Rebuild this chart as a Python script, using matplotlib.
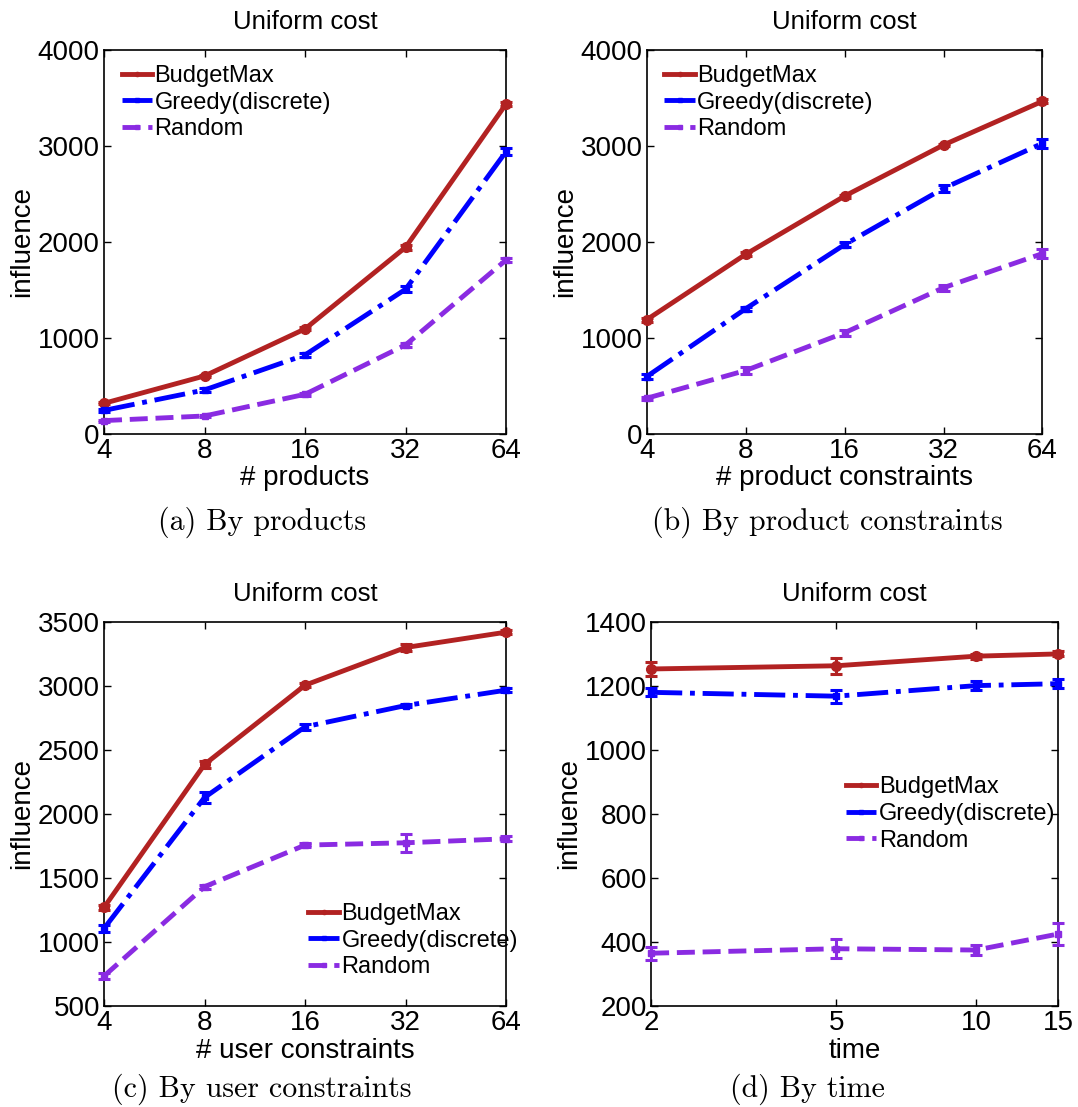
import matplotlib
matplotlib.use("Agg")
import matplotlib.pyplot as plt
from matplotlib.lines import Line2D
from matplotlib.ticker import FixedLocator, NullLocator

plt.rcParams["font.family"] = ["Liberation Sans", "DejaVu Sans"]

# Series names and styles
series_names = ["BudgetMax", "Greedy(discrete)", "Random"]

# (a) By products
products_x = [4, 8, 16, 32, 64]
products_budgetmax = [319, 604, 1094, 1944, 3437]
products_greedy = [245, 458, 823, 1507, 2941]
products_random = [139, 187, 413, 927, 1812]
products_budgetmax_err = [10, 15, 15, 25, 20]
products_greedy_err = [15, 20, 25, 30, 40]
products_random_err = [10, 10, 15, 25, 25]

# (b) By product constraints
pconstr_x = [4, 8, 16, 32, 64]
pconstr_budgetmax = [1190, 1871, 2477, 3009, 3464]
pconstr_greedy = [598, 1304, 1972, 2557, 3026]
pconstr_random = [372, 661, 1054, 1523, 1878]
pconstr_budgetmax_err = [20, 20, 15, 15, 20]
pconstr_greedy_err = [30, 20, 30, 40, 45]
pconstr_random_err = [15, 35, 30, 30, 50]

# (c) By user constraints
uconstr_x = [4, 8, 16, 32, 64]
uconstr_budgetmax = [1270, 2387, 3006, 3300, 3420]
uconstr_greedy = [1106, 2129, 2681, 2847, 2967]
uconstr_random = [734, 1432, 1757, 1775, 1806]
uconstr_budgetmax_err = [20, 30, 15, 25, 15]
uconstr_greedy_err = [30, 45, 25, 15, 15]
uconstr_random_err = [25, 15, 15, 70, 20]

# (d) By time
time_x = [2, 5, 10, 15]
time_budgetmax = [1253, 1263, 1293, 1300]
time_greedy = [1180, 1168, 1201, 1207]
time_random = [365, 379, 375, 425]
time_budgetmax_err = [22, 25, 8, 8]
time_greedy_err = [12, 20, 15, 15]
time_random_err = [20, 30, 15, 35]

captions = ["(a) By products", "(b) By product constraints",
            "(c) By user constraints", "(d) By time"]
xlabels = ["# products", "# product constraints",
           "# user constraints", "time"]

colors = ["#b22222", "#0000ff", "#8a2be2"]
styles = ["-", "-.", "--"]
markers = ["o", "s", "s"]
marker_sizes = [7, 5, 5]


def draw_panel(ax, x, ys, errs, xlabel, yticks, ylim, xticks, base,
               legend_loc, legend_anchor):
    handles = []
    for i in range(3):
        ax.errorbar(x, ys[i], yerr=errs[i], color=colors[i],
                    linestyle=styles[i], linewidth=3.5,
                    marker=markers[i], markersize=marker_sizes[i],
                    elinewidth=2.2, capsize=4, capthick=2.2,
                    clip_on=False, zorder=3)
        handles.append(Line2D([], [], color=colors[i], linestyle=styles[i],
                              linewidth=3.5, marker=markers[i],
                              markersize=3))
    if base is None:
        ax.set_xscale("log")
    else:
        ax.set_xscale("log", base=base)
    ax.set_xlim(x[0], x[-1])
    ax.xaxis.set_major_locator(FixedLocator(xticks))
    ax.xaxis.set_minor_locator(NullLocator())
    ax.set_xticklabels([str(t) for t in xticks])
    ax.set_ylim(*ylim)
    ax.set_yticks(yticks)
    ax.tick_params(direction="in", top=True, right=True, labelsize=20,
                   length=5, width=1, pad=3)
    for spine in ax.spines.values():
        spine.set_linewidth(1.2)
    ax.set_xlabel(xlabel, fontsize=20, labelpad=1)
    ax.set_ylabel("influence", fontsize=20, labelpad=2)
    ax.set_title("Uniform cost", fontsize=18.5, pad=15)
    ax.legend(handles, series_names, loc=legend_loc,
              bbox_to_anchor=legend_anchor, frameon=False,
              fontsize=17, handlelength=1.3, handletextpad=0.1,
              borderaxespad=0, labelspacing=0.2)


fig = plt.figure(figsize=(10.78, 11.07), dpi=100)

ax_a = fig.add_axes([0.0965, 0.608, 0.373, 0.347])
ax_b = fig.add_axes([0.600, 0.608, 0.367, 0.347])
ax_c = fig.add_axes([0.0965, 0.0912, 0.373, 0.347])
ax_d = fig.add_axes([0.604, 0.0912, 0.3776, 0.347])

draw_panel(ax_a, products_x,
           [products_budgetmax, products_greedy, products_random],
           [products_budgetmax_err, products_greedy_err, products_random_err],
           xlabels[0], [0, 1000, 2000, 3000, 4000], (0, 4000),
           products_x, 2, "upper left", (0.02, 0.985))

draw_panel(ax_b, pconstr_x,
           [pconstr_budgetmax, pconstr_greedy, pconstr_random],
           [pconstr_budgetmax_err, pconstr_greedy_err, pconstr_random_err],
           xlabels[1], [0, 1000, 2000, 3000, 4000], (0, 4000),
           pconstr_x, 2, "upper left", (0.02, 0.985))

draw_panel(ax_c, uconstr_x,
           [uconstr_budgetmax, uconstr_greedy, uconstr_random],
           [uconstr_budgetmax_err, uconstr_greedy_err, uconstr_random_err],
           xlabels[2], [500, 1000, 1500, 2000, 2500, 3000, 3500],
           (500, 3500), uconstr_x, 2, "center left", (0.485, 0.17))

draw_panel(ax_d, time_x,
           [time_budgetmax, time_greedy, time_random],
           [time_budgetmax_err, time_greedy_err, time_random_err],
           xlabels[3], [200, 400, 600, 800, 1000, 1200, 1400],
           (200, 1400), time_x, None, "center left", (0.455, 0.5))

# Sub-figure captions in a LaTeX-like serif
caption_pos = [(0.243, 0.528), (0.767, 0.528), (0.243, 0.016), (0.749, 0.016)]
for text, (cx, cy) in zip(captions, caption_pos):
    fig.text(cx, cy, text, ha="center", va="center", fontsize=21.5,
             family=["cmr10", "DejaVu Serif"])

fig.savefig("out.png", dpi=100)
plt.close(fig)
